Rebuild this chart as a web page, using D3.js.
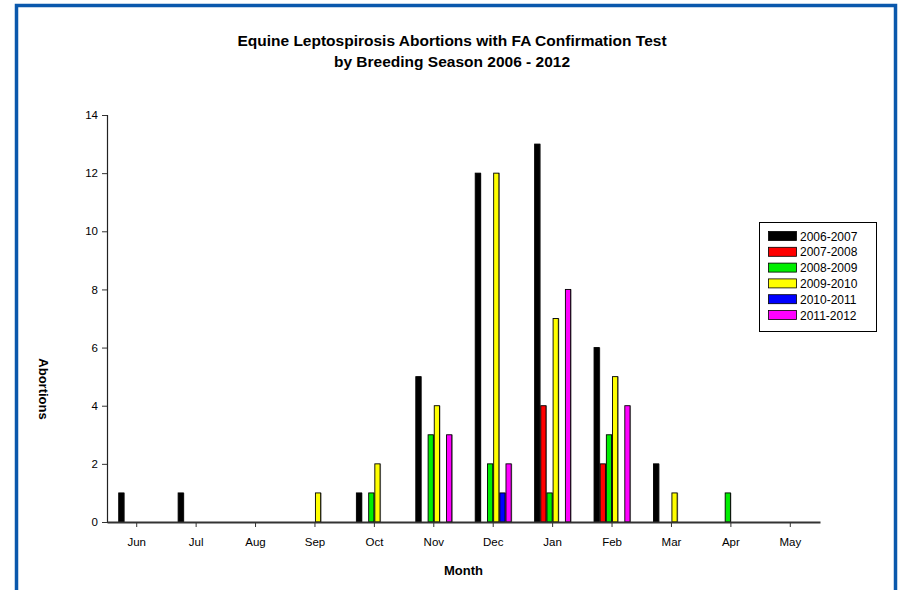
<!DOCTYPE html>
<html>
<head>
<meta charset="utf-8">
<script src="https://cdn.jsdelivr.net/npm/d3@7/dist/d3.min.js"></script>
<style>
  html, body { margin: 0; padding: 0; background: #fff; }
  svg { display: block; }
  text { font-family: "Liberation Sans", Arial, sans-serif; }
</style>
</head>
<body>
<script>
const months = ["Jun","Jul","Aug","Sep","Oct","Nov","Dec","Jan","Feb","Mar","Apr","May"];
const seasons = ["2006-2007","2007-2008","2008-2009","2009-2010","2010-2011","2011-2012"];
const colors = ["#000000","#ff0000","#00ee00","#ffff00","#0000ff","#ff00ff"];
const s2006 = [1,1,0,0,1,5,12,13,6,2,0,0];
const s2007 = [0,0,0,0,0,0,0,4,2,0,0,0];
const s2008 = [0,0,0,0,1,3,2,1,3,0,1,0];
const s2009 = [0,0,0,1,2,4,12,7,5,1,0,0];
const s2010 = [0,0,0,0,0,0,1,0,0,0,0,0];
const s2011 = [0,0,0,0,0,3,2,8,4,0,0,0];
const seriesValues = [s2006, s2007, s2008, s2009, s2010, s2011];
const yTicks = [0,2,4,6,8,10,12,14];

(function () {
const W = 899, H = 590;
const svg = d3.select("body").append("svg").attr("width", W).attr("height", H);

// frame
svg.append("rect").attr("x", 16.5).attr("y", 5.5).attr("width", 879).attr("height", 600)
  .attr("fill", "none").attr("stroke", "#0a58ac").attr("stroke-width", 3.5);

// title
svg.append("text").attr("x", 452).attr("y", 46).attr("text-anchor", "middle")
  .attr("font-size", 15.5).attr("font-weight", "bold")
  .text("Equine Leptospirosis Abortions with FA Confirmation Test");
svg.append("text").attr("x", 452).attr("y", 67).attr("text-anchor", "middle")
  .attr("font-size", 15.5).attr("font-weight", "bold")
  .text("by Breeding Season 2006 - 2012");

const pLeft = 107, pRight = 820, pTop = 115, pBottom = 522;
const x = d3.scaleBand().domain(months).range([pLeft, pRight]);
const y = d3.scaleLinear().domain([0, 14]).range([pBottom, pTop]);
const inner = d3.scaleBand().domain(seasons).range([-18, 18]).paddingInner(0.15);

// bars
const barData = [];
seasons.forEach((s, i) => {
  months.forEach((m, j) => {
    const v = seriesValues[i][j];
    if (v > 0) barData.push({ season: s, month: m, value: v, color: colors[i] });
  });
});
const bw = inner.bandwidth();
svg.append("g").selectAll("rect").data(barData).join("rect")
  .attr("x", d => x(d.month) + x.bandwidth() / 2 + inner(d.season) + 1)
  .attr("y", d => y(d.value))
  .attr("width", bw)
  .attr("height", d => y(0) - y(d.value))
  .attr("fill", "#999");
svg.append("g").selectAll("rect").data(barData).join("rect")
  .attr("x", d => x(d.month) + x.bandwidth() / 2 + inner(d.season))
  .attr("y", d => y(d.value))
  .attr("width", bw)
  .attr("height", d => y(0) - y(d.value))
  .attr("fill", d => d.color)
  .attr("stroke", "#000").attr("stroke-width", 0.9);

// y axis
const yAxis = svg.append("g").attr("transform", `translate(${pLeft},0)`)
  .call(d3.axisLeft(y).tickValues(yTicks).tickSize(5).tickPadding(4));
yAxis.select(".domain").attr("stroke", "#222").attr("stroke-width", 1.2);
yAxis.selectAll(".tick line").attr("stroke", "#333");
yAxis.selectAll("text").attr("font-size", 11.5).attr("fill", "#000")
  .attr("font-family", "Liberation Sans, Arial, sans-serif");

// x axis
const xAxis = svg.append("g").attr("transform", `translate(0,${pBottom})`)
  .call(d3.axisBottom(x).tickSizeInner(5).tickSizeOuter(0).tickPadding(11));
xAxis.select(".domain").attr("stroke", "#333").attr("stroke-width", 2);
xAxis.selectAll(".tick line").attr("stroke", "#333");
xAxis.selectAll("text").attr("font-size", 11.5).attr("fill", "#000")
  .attr("font-family", "Liberation Sans, Arial, sans-serif");

// axis titles
svg.append("text").attr("x", (pLeft + pRight) / 2).attr("y", 575).attr("text-anchor", "middle")
  .attr("font-size", 13).attr("font-weight", "bold").text("Month");
svg.append("text").attr("transform", "translate(39,389) rotate(90)").attr("text-anchor", "middle")
  .attr("font-size", 13).attr("font-weight", "bold").text("Abortions");

// legend
const lg = svg.append("g");
lg.append("rect").attr("x", 759.5).attr("y", 222.5).attr("width", 117).attr("height", 109)
  .attr("fill", "#fff").attr("stroke", "#000").attr("stroke-width", 1);
seasons.forEach((s, i) => {
  const yy = 236 + i * 15.8;
  lg.append("rect").attr("x", 768.5).attr("y", yy - 4.5).attr("width", 28).attr("height", 9)
    .attr("fill", colors[i]).attr("stroke", "#000").attr("stroke-width", 0.8);
  lg.append("text").attr("x", 800).attr("y", yy + 4.5).attr("font-size", 12).text(s);
});
})();
</script>
</body>
</html>
